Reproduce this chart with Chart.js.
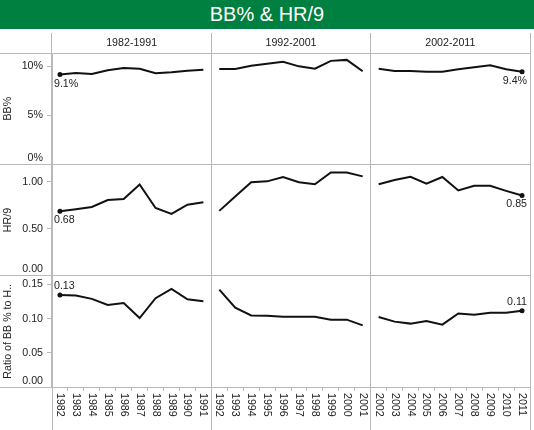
<!DOCTYPE html>
<html>
  <head>
    <meta charset="UTF-8"/>
    <title>BB% &amp; HR/9</title>
    <script src="https://cdn.jsdelivr.net/npm/chart.js@4.4.1/dist/chart.umd.min.js"></script>
    <style>
     body {
       margin: 0;
       background: #fff;
       font-family: 'Liberation Sans', Arial, sans-serif;
     }
     #title {
       width: 534px;
       height: 29px;
       line-height: 29px;
       background: #008040;
       color: #fff;
       font-size: 20px;
       text-align: center;
     }
     #box {
       position: relative;
       width: 534px;
       height: 401px;
     }
    </style>
  </head>
  <body>
    <div id="title">BB% &amp; HR/9</div>
    <div id="box">
      <canvas id="chart-bb-hr"></canvas>
    </div>

    <script>
     // values
     const YEARS = ["1982", "1983", "1984", "1985", "1986", "1987", "1988", "1989", "1990", "1991",
                    "1992", "1993", "1994", "1995", "1996", "1997", "1998", "1999", "2000", "2001",
                    "2002", "2003", "2004", "2005", "2006", "2007", "2008", "2009", "2010", "2011"];
     const DECADES = ["1982-1991", "1992-2001", "2002-2011"];
     const BB_PCT = [9.13, 9.30, 9.20, 9.57, 9.80, 9.73, 9.27, 9.37, 9.53, 9.63,
                     9.70, 9.70, 10.03, 10.23, 10.43, 9.97, 9.73, 10.53, 10.63, 9.47,
                     9.73, 9.50, 9.50, 9.43, 9.43, 9.67, 9.87, 10.07, 9.67, 9.43];
     const HR9 = [0.684, 0.706, 0.730, 0.804, 0.815, 0.969, 0.720, 0.657, 0.755, 0.780,
                  0.689, 0.843, 0.993, 1.003, 1.049, 0.993, 0.972, 1.098, 1.098, 1.056,
                  0.972, 1.017, 1.052, 0.979, 1.049, 0.906, 0.955, 0.955, 0.902, 0.853];
     const BB_HR_RATIO = [0.1348, 0.1338, 0.1290, 0.1200, 0.1230, 0.1010, 0.1300, 0.1435, 0.1285, 0.1256,
                          0.1425, 0.1160, 0.1048, 0.1043, 0.1030, 0.1030, 0.1030, 0.0986, 0.0986, 0.0903,
                          0.1024, 0.0957, 0.0928, 0.0966, 0.0913, 0.1077, 0.1058, 0.1087, 0.1087, 0.1116];
     const LABEL_IDX = [0, YEARS.length - 1];

     const GRID = "#b9b9b9";
     const INK = "#222";
     const LINE = "#111";
     const FAMILY = "'Liberation Sans', Arial, sans-serif";
     const FONT = {family: FAMILY, size: 10.67};

     function decadeOf(i){
         return DECADES.findIndex(d => {
             const [a, b] = d.split("-");
             return YEARS[i] >= a && YEARS[i] <= b;
         });
     }

     function align(px){
         return Math.round(px - 0.5) + 0.5;
     }

     function yAxis(title, max, step, fmt, weight){
         return {
             type: "linear", position: "left", stack: "rows", stackWeight: 1, weight: weight,
             min: 0, max: max,
             grid: {drawOnChartArea: false, tickLength: 5, color: GRID, tickColor: GRID},
             border: {color: GRID},
             ticks: {
                 stepSize: step, includeBounds: false, autoSkip: false, padding: 4, color: INK, font: FONT,
                 // the zero label sits inside its pane, as in the original
                 callback: v => v === 0 ? [fmt(v), ""] : fmt(v)
             },
             title: {display: true, text: title, color: INK, font: FONT, padding: {top: 2, bottom: 0}},
             afterFit: s => { s.width = 52; }
         };
     }

     function lineSet(data, axis, fmt, above){
         return {
             data: data, yAxisID: axis, fmt: fmt, labelAbove: above,
             borderColor: LINE, borderWidth: 2, tension: 0,
             pointRadius: c => LABEL_IDX.includes(c.dataIndex) ? 2.5 : 0,
             pointBackgroundColor: LINE, pointBorderWidth: 0,
             segment: {
                 borderColor: c => decadeOf(c.p0DataIndex) !== decadeOf(c.p1DataIndex) ? "rgba(0,0,0,0)" : LINE
             }
         };
     }

     const fmtPct = v => v.toFixed(Number.isInteger(v) ? 0 : 1) + "%";
     const fmt2 = v => v.toFixed(2);

     const pointLabels = {
         id: "pointLabels",
         afterDatasetsDraw(chart){
             const ctx = chart.ctx;
             ctx.save();
             ctx.font = "10.67px " + FAMILY;
             ctx.fillStyle = INK;
             ctx.textBaseline = "middle";
             chart.data.datasets.forEach((ds, di) => {
                 const meta = chart.getDatasetMeta(di);
                 LABEL_IDX.forEach(i => {
                     const pt = meta.data[i];
                     const first = i === 0;
                     ctx.textAlign = first ? "left" : "right";
                     ctx.fillText(ds.fmt(ds.data[i]), pt.x + (first ? -6 : 5), pt.y + (ds.labelAbove ? -9 : 9));
                 });
             });
             ctx.restore();
         }
     };

     const frame = {
         id: "frame",
         afterDraw(chart){
             const {ctx, chartArea, scales} = chart;
             const x = scales.x;
             ctx.save();
             ctx.strokeStyle = GRID;
             ctx.lineWidth = 1;
             ctx.beginPath();
             ["yB", "yH", "yR"].forEach(id => {
                 const yy = align(scales[id].top);
                 ctx.moveTo(0, yy);
                 ctx.lineTo(chartArea.right, yy);
             });
             const yb = align(chartArea.bottom);
             ctx.moveTo(0, yb);
             ctx.lineTo(chartArea.right, yb);
             // decade separators through the year label band
             const bounds = [x.left, x.right];
             for (let i = 1; i < YEARS.length; i++) {
                 if (decadeOf(i) !== decadeOf(i - 1)) {
                     bounds.push((x.getPixelForTick(i - 1) + x.getPixelForTick(i)) / 2);
                 }
             }
             bounds.forEach(bx => {
                 const xx = align(bx);
                 ctx.moveTo(xx, chartArea.bottom);
                 ctx.lineTo(xx, chart.height);
             });
             ctx.stroke();

             // year labels, reading top to bottom
             ctx.font = "10.67px " + FAMILY;
             ctx.fillStyle = INK;
             ctx.textAlign = "left";
             ctx.textBaseline = "middle";
             YEARS.forEach((yr, i) => {
                 ctx.save();
                 ctx.translate(x.getPixelForTick(i), chartArea.bottom + 6);
                 ctx.rotate(Math.PI / 2);
                 ctx.fillText(yr, 0, 0);
                 ctx.restore();
             });
             ctx.restore();
         }
     };

     new Chart("chart-bb-hr", {
         type: "line",
         data: {
             labels: YEARS,
             datasets: [
                 lineSet(BB_PCT, "yB", fmtPct, false),
                 lineSet(HR9, "yH", fmt2, false),
                 lineSet(BB_HR_RATIO, "yR", fmt2, true)
             ]
         },
         options: {
             responsive: true,
             maintainAspectRatio: false,
             animation: false,
             events: [],
             layout: {padding: {top: 3, right: 2, left: 0, bottom: 0}},
             plugins: {legend: {display: false}, tooltip: {enabled: false}},
             scales: {
                 x: {
                     type: "category", position: "bottom", offset: true,
                     grid: {offset: true, drawOnChartArea: false, tickLength: 4, color: GRID, tickColor: GRID},
                     border: {color: GRID},
                     ticks: {display: false, autoSkip: false},
                     afterFit: s => { s.height = 43; }
                 },
                 x2: {
                     type: "category", labels: DECADES, position: "top", offset: true,
                     grid: {offset: true, drawOnChartArea: true, tickLength: 20, color: GRID, tickColor: GRID},
                     border: {color: GRID},
                     ticks: {color: INK, font: FONT, padding: -16, maxRotation: 0, autoSkip: false},
                     afterFit: s => { s.height = 21; }
                 },
                 yB: yAxis("BB%", 11.33, 5, fmtPct, 3),
                 yH: yAxis("HR/9", 1.184, 0.5, fmt2, 2),
                 yR: yAxis("Ratio of BB % to H..", 0.163, 0.05, fmt2, 1)
             }
         },
         plugins: [pointLabels, frame]
     });
    </script>
  </body>
</html>
